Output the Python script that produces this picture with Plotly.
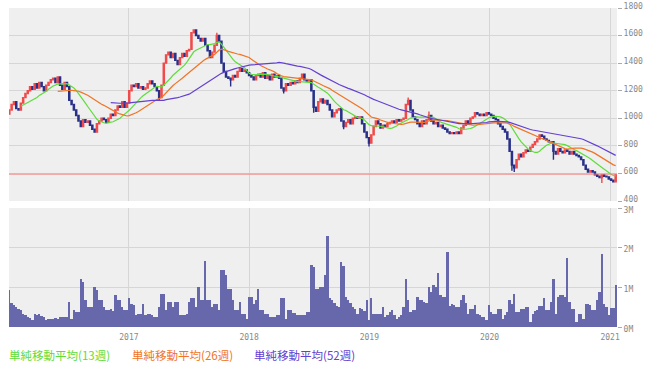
import pandas as pd
import plotly.graph_objects as go

dates = pd.date_range("2016-01-04", periods=264, freq="7D")

close = [
    1060,1100,1120,1070,1060,1110,1150,1180,1200,1230,
    1210,1250,1220,1260,1230,1200,1240,1260,1280,1290,
    1260,1300,1240,1210,1260,1230,1130,1100,1060,1020,
    980,940,990,970,980,950,920,900,960,980,
    1000,990,970,1000,1030,1020,1060,1090,1080,1120,
    1080,1110,1200,1240,1230,1250,1220,1230,1210,1220,
    1250,1270,1250,1230,1200,1150,1240,1400,1460,1480,
    1440,1470,1420,1390,1440,1470,1450,1490,1500,1620,
    1640,1600,1580,1560,1580,1530,1490,1440,1480,1530,
    1600,1560,1400,1340,1300,1290,1280,1310,1300,1340,
    1360,1340,1350,1330,1310,1300,1280,1310,1320,1300,
    1330,1290,1310,1280,1320,1300,1310,1290,1220,1200,
    1250,1240,1260,1250,1270,1260,1290,1320,1280,1270,
    1280,1200,1080,1050,1120,1140,1110,1130,1100,1060,
    1010,1040,1060,1070,980,940,970,990,960,1000,
    1010,1000,1010,960,900,860,820,880,940,980,
    960,930,950,940,960,970,980,970,990,980,
    990,1000,1100,1130,1060,1010,990,960,940,980,
    960,990,1020,980,960,970,940,950,930,920,
    900,890,895,890,900,890,930,950,980,960,
    1000,1010,1040,1030,1020,1030,1020,1040,1030,1020,
    1000,990,960,940,920,900,850,760,660,640,
    700,740,720,750,770,760,790,810,830,850,
    880,870,850,840,830,830,760,740,780,760,
    750,770,760,740,760,740,730,720,700,660,
    630,610,620,610,590,580,570,590,580,575,
    560,550,540,590,
]
first_open = 1030
wick_high = {173: 1150, 182: 1050, 90: 1620}
wick_low = {65: 1130, 96: 1230, 119: 1180, 132: 1040, 145: 920, 156: 795,
            218: 620, 219: 610, 236: 700, 257: 530}

volume_m = [
    0.93,0.6,0.55,0.5,0.45,0.42,0.34,0.3,0.25,0.22,
    0.17,0.34,0.3,0.32,0.28,0.25,0.18,0.21,0.2,0.2,
    0.22,0.21,0.24,0.25,0.24,0.25,0.63,0.21,0.42,0.38,
    0.38,1.22,1.14,0.67,0.5,0.5,0.5,1.0,0.93,0.67,
    0.67,0.5,0.42,0.42,0.46,0.4,0.8,0.67,0.67,0.5,
    0.42,0.42,0.73,0.59,0.55,0.3,0.34,0.34,0.57,0.3,
    0.32,0.34,0.3,0.25,0.25,0.5,0.82,0.82,0.42,0.63,
    0.63,0.5,0.63,0.63,0.3,0.3,0.3,0.34,0.63,0.72,
    0.72,0.5,1.01,0.67,0.67,1.66,0.67,0.67,0.5,0.59,
    0.59,0.42,1.43,1.43,1.3,0.97,0.97,0.67,0.42,0.42,
    0.63,0.34,0.34,0.21,0.76,0.76,0.59,0.67,0.97,0.42,
    0.42,0.34,0.34,0.25,0.25,0.25,0.3,0.3,0.73,0.73,
    0.21,0.42,0.42,0.35,0.35,0.3,0.3,0.3,0.3,0.38,
    0.38,1.56,1.5,0.97,0.95,1.0,1.01,1.3,2.3,0.74,
    0.67,0.6,0.52,0.5,1.64,1.53,0.76,0.69,0.6,0.5,
    0.45,0.34,0.49,0.45,0.4,0.67,0.17,0.72,0.34,0.34,
    0.32,0.32,0.5,0.25,0.3,0.38,0.42,0.3,0.19,0.25,
    0.3,0.5,1.2,0.67,0.38,0.42,0.42,0.76,0.69,0.69,
    0.63,0.6,1.0,0.88,1.05,1.0,1.36,0.8,0.76,0.76,
    1.89,0.52,0.59,0.55,0.5,0.5,0.67,0.8,0.6,0.34,
    0.46,0.46,0.55,0.34,0.3,0.25,0.25,0.17,0.55,0.38,
    0.34,0.34,0.46,0.46,0.21,0.3,0.38,0.67,0.59,0.84,
    0.38,0.38,0.46,0.46,0.5,0.5,0.13,0.34,0.4,0.42,
    0.52,0.52,0.72,0.42,0.42,0.63,1.22,0.34,0.76,0.8,
    0.8,0.76,1.75,0.63,0.46,0.46,0.13,0.34,0.34,0.21,
    0.57,0.57,0.55,0.42,0.42,0.69,0.88,1.84,0.59,0.5,
    0.3,0.49,0.49,1.05,
]

support_level = 595
price_ticks = [400, 600, 800, 1000, 1200, 1400, 1600, 1800]
vol_ticks = [0, 1e6, 2e6, 3e6]
vol_ticktext = ["0M", "1M", "2M", "3M"]
ma_windows = [13, 26, 52]
ma_min_periods = [6, 22, 45]
ma_names = ["単純移動平均(13週)", "単純移動平均(26週)", "単純移動平均(52週)"]
ma_colors = ["#5edc3a", "#f07424", "#6440d0"]

# derived series
open_ = [first_open] + close[:-1]
high = [max(o, c) for o, c in zip(open_, close)]
low = [min(o, c) for o, c in zip(open_, close)]
for k, v in wick_high.items():
    high[k] = max(high[k], v)
for k, v in wick_low.items():
    low[k] = min(low[k], v)
volume = [v * 1e6 for v in volume_m]
cs = pd.Series(close, index=dates)

fig = go.Figure()
fig.add_trace(go.Candlestick(
    x=dates, open=open_, high=high, low=low, close=close,
    increasing=dict(line=dict(color="#f04a4a", width=1.4), fillcolor="#f46a6a"),
    decreasing=dict(line=dict(color="#283088", width=1.4), fillcolor="#283088"),
    whiskerwidth=0, xaxis="x", yaxis="y", showlegend=False,
))
for w, mp, name, col in zip(ma_windows, ma_min_periods, ma_names, ma_colors):
    ma = cs.rolling(w, min_periods=mp).mean()
    fig.add_trace(go.Scatter(x=dates, y=ma.values, mode="lines", name=name,
                             line=dict(color=col, width=1.2), xaxis="x", yaxis="y",
                             showlegend=False))
fig.add_trace(go.Bar(x=dates, y=volume, marker=dict(color="#6767ab", line=dict(width=0)),
                     width=7 * 86400000, xaxis="x2", yaxis="y2", showlegend=False))

fig.add_shape(type="line", xref="x domain", yref="y", x0=0, x1=1,
              y0=support_level, y1=support_level, line=dict(color="#f08080", width=1))

tickfont = dict(family="DejaVu Sans Mono", size=8, color="#888888")
grid = "#d6d6d6"
xr = ["2016-01-03", "2021-01-22"]
fig.update_layout(
    width=651, height=372, autosize=False,
    margin=dict(l=9, r=34, t=8, b=45, autoexpand=False),
    paper_bgcolor="white", plot_bgcolor="#efefef",
    bargap=0,
    xaxis=dict(type="date", range=xr, anchor="y", showticklabels=False,
               tick0="2017-01-01", dtick="M12", gridcolor=grid, gridwidth=1,
               rangeslider=dict(visible=False), showline=False, zeroline=False,
               automargin=False),
    xaxis2=dict(type="date", range=xr, anchor="y2", matches="x",
                tick0="2017-01-01", dtick="M12", tickformat="%Y",
                gridcolor=grid, gridwidth=1, tickfont=tickfont, showline=False,
                zeroline=False, ticks="", ticklabelstandoff=4, automargin=False),
    yaxis=dict(domain=[0.395, 1], range=[400, 1800], side="right",
               tickvals=price_ticks, gridcolor=grid, tickfont=tickfont,
               ticks="outside", ticklen=4, tickcolor="#aaaaaa", zeroline=False,
               showline=False, ticklabelshift=-2, automargin=False),
    yaxis2=dict(domain=[0, 0.373], range=[0, 3e6], side="right",
                tickvals=vol_ticks, ticktext=vol_ticktext, gridcolor=grid,
                tickfont=tickfont, ticks="outside", ticklen=4, tickcolor="#aaaaaa",
                zeroline=False, showline=False, ticklabelshift=2, automargin=False),
)

legend_x = [7, 130, 252]
for name, col, xp in zip(ma_names, ma_colors, legend_x):
    fig.add_annotation(text=name, xref="paper", yref="paper",
                       x=(xp - 9) / 608, y=-0.088, xanchor="left", yanchor="middle",
                       showarrow=False,
                       font=dict(family="Noto Sans CJK JP", size=11.5, color=col))

fig.write_html("out.html", config={"displayModeBar": False},
               post_script="document.body.style.margin='0px';")
